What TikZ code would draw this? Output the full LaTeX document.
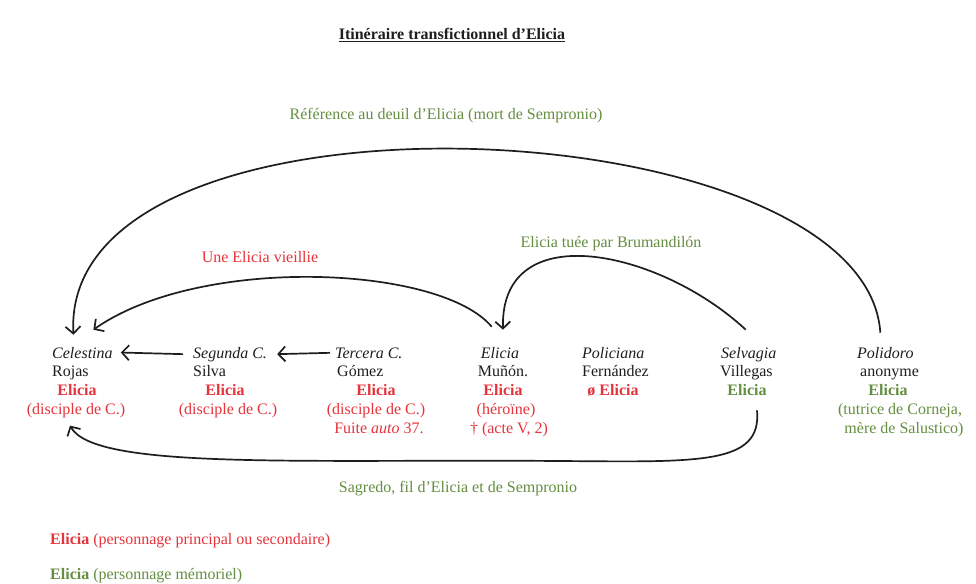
\documentclass[tikz,border=0pt]{standalone}
\usepackage{fontspec}
\setmainfont{Liberation Serif}
\usetikzlibrary{arrows.meta}
\definecolor{ered}{RGB}{229,52,60}
\definecolor{egreen}{RGB}{100,142,64}
\definecolor{ink}{RGB}{30,30,30}
\begin{document}
\begin{tikzpicture}[x=1pt,y=-1pt,
  txt/.style={inner sep=0pt,anchor=base,text=ink,font=\fontsize{16}{19}\selectfont},
  ttl/.style={txt,font=\fontsize{16}{19}\selectfont\itshape},
  rd/.style={txt,text=ered},
  gr/.style={txt,text=egreen},
  bd/.style={font=\fontsize{16}{19}\selectfont\bfseries},
  lft/.style={anchor=base west},
  lbl/.style={inner sep=0pt,anchor=base,font=\fontsize{16}{19}\selectfont},
  arr/.style={draw=ink,line width=1.7pt,-{Straight Barb[length=7pt,width=15pt]}}]
\fill[white] (0,0) rectangle (976,583);
\path[use as bounding box] (0,0) rectangle (976,583);

% title
\node[inner sep=0pt,anchor=base,text=ink,font=\fontsize{16}{19}\selectfont\bfseries] (title) at (452,40) {\underline{Itinéraire transfictionnel d’Elicia}};

% column 1
\node[ttl,lft] (celT) at (52,358) {Celestina};
\node[txt,lft] (celA) at (52,376) {Rojas};
\node[rd,bd] (celE) at (77,395) {Elicia};
\node[rd] (celD) at (76,414) {(disciple de C.)};
% column 2
\node[ttl,lft] (segT) at (193,358) {Segunda C.};
\node[txt,lft] (segA) at (193,376) {Silva};
\node[rd,bd] (segE) at (225,395) {Elicia};
\node[rd] (segD) at (228,414) {(disciple de C.)};
% column 3
\node[ttl,lft] (terT) at (335,358) {Tercera C.};
\node[txt,lft] (terA) at (337,376) {Gómez};
\node[rd,bd] (terE) at (376,395) {Elicia};
\node[rd] (terD) at (376,414) {(disciple de C.)};
\node[rd] (terF) at (379,433) {Fuite \textit{auto} 37.};
% column 4
\node[ttl] (eliT) at (500,358) {Elicia};
\node[txt] (eliA) at (503,376) {Muñón.};
\node[rd,bd] (eliE) at (503,395) {Elicia};
\node[rd] (eliD) at (506,414) {(héroïne)};
\node[rd] (eliF) at (509,433) {† (acte V, 2)};
% column 5
\node[ttl,lft] (polT) at (582,358) {Policiana};
\node[txt,lft] (polA) at (582,376) {Fernández};
\node[rd,bd] (polE) at (613,395) {ø Elicia};
% column 6
\node[ttl,lft] (selT) at (721,358) {Selvagia};
\node[txt,lft] (selA) at (720,376) {Villegas};
\node[gr,bd] (selE) at (747,395) {Elicia};
% column 7
\node[ttl,lft] (podT) at (857,358) {Polidoro};
\node[txt,lft] (podA) at (860,376) {anonyme};
\node[gr,bd] (podE) at (888,395) {Elicia};
\node[gr] (podD) at (900,414) {(tutrice de Corneja,};
\node[gr] (podF) at (904,433) {mère de Salustico)};

% connector labels
\node[lbl,text=egreen] (l1) at (446,120) {Référence au deuil d’Elicia (mort de Sempronio)};
\node[lbl,text=ered] (l2) at (260,262) {Une Elicia vieillie};
\node[lbl,text=egreen] (l3) at (611,247) {Elicia tuée par Brumandilón};
\node[lbl,text=egreen] (l4) at (458,492) {Sagredo, fil d’Elicia et de Sempronio};

% legend
\node[lbl,anchor=base west,text=ered] (leg1) at (50,544) {\textbf{Elicia} (personnage principal ou secondaire)};
\node[lbl,anchor=base west,text=egreen] (leg2) at (50,579) {\textbf{Elicia} (personnage mémoriel)};

% connectors
\draw[arr] ([xshift=-10pt]segT.west) -- ([xshift=8pt]celT.east);
\draw[arr] ([xshift=-5pt]terT.west) -- ([xshift=10pt]segT.east);
\draw[arr] ([shift={(-5pt,14pt)}]podT.north) .. controls (865,105) and (60,70) .. ([shift={(-9pt,12pt)}]celT.north);
\draw[arr] ([shift={(11pt,20pt)}]eliT.north west) .. controls (440,265) and (200,255) .. ([shift={(11pt,17pt)}]celT.north);
\draw[arr] ([shift={(-3pt,17pt)}]selT.north) .. controls (660,250) and (500,215) .. ([shift={(3pt,17pt)}]eliT.north);
\draw[arr] ([shift={(10pt,-15pt)}]selE.south) .. controls (762,465) and (700,462) .. (560,461) .. controls (300,459) and (95,470) .. ([shift={(-6pt,-8pt)}]celD.south);
\end{tikzpicture}
\end{document}
